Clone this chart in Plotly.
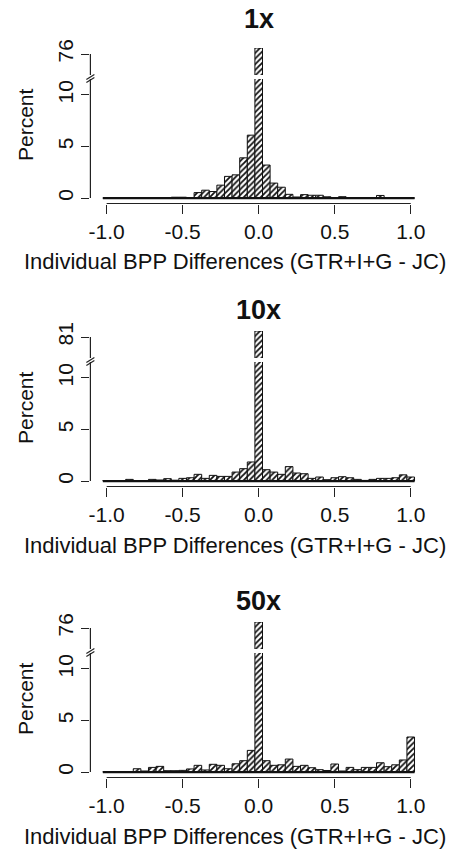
import plotly.graph_objects as go

# ---------------- data ----------------
bin_centers = [-1.0, -0.95, -0.9, -0.85, -0.8, -0.75, -0.7, -0.65, -0.6, -0.55,
               -0.5, -0.45, -0.4, -0.35, -0.3, -0.25, -0.2, -0.15, -0.1, -0.05,
               0.0, 0.05, 0.1, 0.15, 0.2, 0.25, 0.3, 0.35, 0.4, 0.45,
               0.5, 0.55, 0.6, 0.65, 0.7, 0.75, 0.8, 0.85, 0.9, 0.95, 1.0]
bin_width = 0.05

panel_titles = ["1x", "10x", "50x"]

pct_1x = [0, 0, 0, 0, 0, 0, 0, 0, 0, 0.08, 0.08, 0.02,
          0.53, 0.76, 0.63, 1.25, 2.1, 2.25, 3.9, 6.1,
          77,
          3.2, 1.45, 1.05, 0.36, 0.1, 0.33, 0.27, 0.27, 0.12, 0.03, 0.13,
          0, 0, 0, 0, 0.25, 0, 0, 0, 0]
pct_10x = [0.05, 0.05, 0.05, 0.16, 0.03, 0.05, 0.16, 0.1, 0.23, 0.08,
           0.26, 0.32, 0.65, 0.26, 0.55, 0.45, 0.45, 0.87, 1.2, 1.85,
           82,
           1.1, 0.87, 0.65, 1.4, 0.78, 0.71, 0.26, 0.39, 0.13, 0.32,
           0.42, 0.32, 0.16, 0.06, 0.16, 0.26, 0.26, 0.32, 0.6, 0.39]
pct_50x = [0.02, 0.02, 0.05, 0.05, 0.32, 0.1, 0.45, 0.55, 0.13, 0.13,
           0.16, 0.3, 0.65, 0.2, 0.75, 0.65, 0.32, 0.8, 1.1, 2.1,
           77,
           1.1, 0.65, 0.7, 1.26, 0.55, 0.65, 0.42, 0.23, 0.15, 0.78,
           0.1, 0.45, 0.23, 0.45, 0.45, 0.9, 0.52, 0.7, 1.17, 3.4]
series = [pct_1x, pct_10x, pct_50x]

lower_ticks = [0, 5, 10]
upper_tick = [76, 81, 76]          # label of the broken (top) segment
x_ticks = [-1.0, -0.5, 0.0, 0.5, 1.0]
x_ticklabels = ["-1.0", "-0.5", "0.0", "0.5", "1.0"]
x_title = "Individual BPP Differences (GTR+I+G - JC)"
y_title = "Percent"

# ---------------- layout helpers ----------------
W, H = 467, 853
FONT = "Liberation Sans, Arial, Helvetica, sans-serif"


def fx(px):
    return px / W


def fy(px):
    return 1 - px / H


panel_offset = [0, 283, 574]
title_y = [19, 310, 601]
X_L, X_R = 90.4, 427.0
LOW_RANGE = [-0.53, 11.55]

fig = go.Figure()
layout = dict(
    template="none",
    width=W, height=H,
    margin=dict(l=0, r=0, t=0, b=0, pad=0, autoexpand=False),
    paper_bgcolor="white", plot_bgcolor="white",
    showlegend=False, bargap=0,
    font=dict(family=FONT, size=20, color="black"),
)
shapes = []
annotations = []

bar_marker = dict(
    color="white",
    line=dict(color="#111111", width=1),
    pattern=dict(shape="/", fgcolor="#111111", bgcolor="white", size=4, solidity=0.45),
)

for p in range(3):
    off = panel_offset[p]
    xi = p + 1
    lo = 2 * p + 1
    up = 2 * p + 2
    xname = "x" if xi == 1 else f"x{xi}"
    loname = "y" if lo == 1 else f"y{lo}"
    upname = f"y{up}"
    vals = series[p]
    utick = upper_tick[p]
    top_val = max(vals)
    up_range = [top_val - 4.5, top_val]

    for yname in (loname, upname):
        fig.add_trace(go.Bar(x=bin_centers, y=vals, width=bin_width,
                             marker=bar_marker, xaxis=xname, yaxis=yname,
                             hoverinfo="skip"))

    xkey = "xaxis" if xi == 1 else f"xaxis{xi}"
    lokey = "yaxis" if lo == 1 else f"yaxis{lo}"
    upkey = f"yaxis{up}"

    common = dict(automargin=False, showline=False, showgrid=False, zeroline=False,
                  ticks="outside", tickwidth=1, tickcolor="#222",
                  tickfont=dict(family=FONT, size=21, color="#111"))
    layout[xkey] = dict(
        domain=[fx(X_L), fx(X_R)], range=[-1.107, 1.107], anchor=loname,
        ticklen=9, tickvals=x_ticks, ticktext=x_ticklabels, **common,
    )
    layout[lokey] = dict(
        domain=[fy(off + 203.5), fy(off + 79)], range=LOW_RANGE, anchor=xname,
        ticklen=8, tickvals=lower_ticks, tickangle=-90, **common,
    )
    layout[upkey] = dict(
        domain=[fy(off + 75), fy(off + 48)], range=up_range, anchor=xname,
        ticklen=8, tickvals=[utick], tickangle=-90, **common,
    )

    # y axis lines (lower and upper segments)
    shapes.append(dict(type="line", xref=f"{xname} domain", yref=loname,
                       x0=0, x1=0, y0=0, y1=LOW_RANGE[1],
                       line=dict(color="#222", width=1.2)))
    shapes.append(dict(type="line", xref=f"{xname} domain", yref=upname,
                       x0=0, x1=0, y0=up_range[0], y1=utick,
                       line=dict(color="#222", width=1.2)))
    # axis break marks
    for dy in (0, 3):
        shapes.append(dict(type="line", xref="paper", yref="paper",
                           x0=fx(X_L - 4), y0=fy(off + 81.5 + dy - 2),
                           x1=fx(X_L + 4), y1=fy(off + 76.5 + dy - 2),
                           line=dict(color="#222", width=1.2)))
    # x axis line from first to last tick
    shapes.append(dict(type="line", xref=xname, yref=f"{loname} domain",
                       x0=x_ticks[0], x1=x_ticks[-1], y0=0, y1=0,
                       line=dict(color="#222", width=1.2)))
    # histogram baseline (empty bins)
    shapes.append(dict(type="line", xref=xname, yref=loname,
                       x0=bin_centers[0] - bin_width / 2,
                       x1=bin_centers[-1] + bin_width / 2, y0=0, y1=0,
                       line=dict(color="#111", width=2.2)))

    # titles
    annotations.append(dict(text=f"<b>{panel_titles[p]}</b>", xref="paper", yref="paper",
                            x=fx((X_L + X_R) / 2), y=fy(title_y[p]), showarrow=False,
                            xanchor="center", yanchor="middle",
                            font=dict(family=FONT, size=27, color="#111")))
    annotations.append(dict(text=y_title, xref="paper", yref="paper",
                            x=fx(25), y=fy(off + 125), showarrow=False, textangle=-90,
                            xanchor="center", yanchor="middle",
                            font=dict(family=FONT, size=21, color="#111")))
    annotations.append(dict(text=x_title, xref="paper", yref="paper",
                            x=fx(234.5), y=fy(off + 262), showarrow=False,
                            xanchor="center", yanchor="middle",
                            font=dict(family=FONT, size=22, color="#111")))

layout["shapes"] = shapes
layout["annotations"] = annotations
fig.update_layout(**layout)
# remove the default 8px <body> margin so the figure fills the window exactly
fig.write_html("out.html", config={"displayModeBar": False, "staticPlot": True},
               post_script="document.body.style.margin='0';")
